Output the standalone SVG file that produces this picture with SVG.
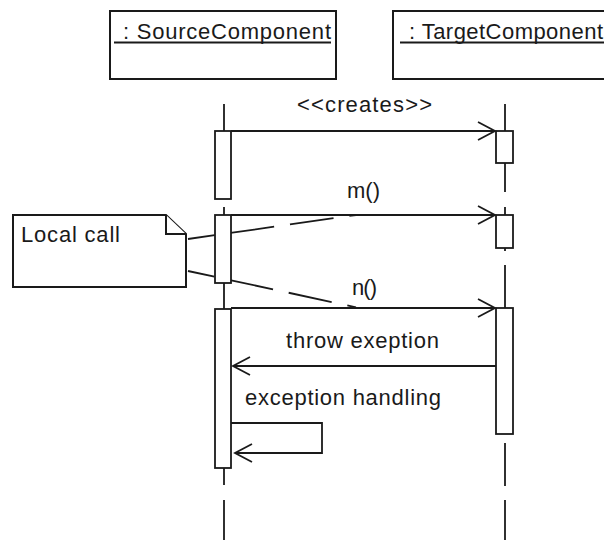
<svg xmlns="http://www.w3.org/2000/svg" width="604" height="540" viewBox="0 0 604 540">
<style>
  .box{fill:#fff;stroke:#1a1a1a;stroke-width:2}
  .bar{fill:#fff;stroke:#1a1a1a;stroke-width:1.8}
  .life{stroke:#1a1a1a;stroke-width:1.8;fill:none}
  .msg{stroke:#1a1a1a;stroke-width:1.8;fill:none;marker-end:url(#open)}
  .anchor{stroke:#1a1a1a;stroke-width:1.8;fill:none;stroke-dasharray:44 16;stroke-dashoffset:17}
  .t{font-family:"Liberation Sans",Arial,sans-serif;font-size:22px;fill:#1a1a1a}
  .ul{stroke:#1a1a1a;stroke-width:1.8}
</style>
<defs>
  <marker id="open" viewBox="-19 -11 21 22" markerWidth="21" markerHeight="22" refX="0" refY="0" markerUnits="userSpaceOnUse" orient="auto" overflow="visible">
    <path d="M-17 -9 L0 0 L-17 9" fill="none" stroke="#1a1a1a" stroke-width="1.8"/>
  </marker>
</defs>
<rect width="604" height="540" fill="#fff"/>

<g id="lifelines">
  <g id="source-lifeline" class="life">
    <line x1="224" y1="104" x2="224" y2="131"/>
    <line x1="224" y1="207" x2="224" y2="215"/>
    <line x1="224" y1="283" x2="224" y2="309"/>
    <line x1="224" y1="468" x2="224" y2="485"/>
    <line x1="224" y1="500" x2="224" y2="540"/>
  </g>
  <g id="target-lifeline" class="life">
    <line x1="505" y1="104" x2="505" y2="131"/>
    <line x1="505" y1="163" x2="505" y2="192"/>
    <line x1="505" y1="207" x2="505" y2="215"/>
    <line x1="505" y1="248" x2="505" y2="251"/>
    <line x1="505" y1="265" x2="505" y2="308"/>
    <line x1="505" y1="443" x2="505" y2="486"/>
    <line x1="505" y1="500" x2="505" y2="540"/>
  </g>
</g>

<g id="source-component">
  <rect class="box" x="110" y="11" width="226" height="68"/>
  <text class="t" x="123" y="39" textLength="208" lengthAdjust="spacing">: SourceComponent</text>
  <line class="ul" x1="114" y1="42.5" x2="331" y2="42.5"/>
</g>

<g id="target-component">
  <rect class="box" x="393" y="11" width="230" height="68"/>
  <text class="t" x="409" y="39" textLength="194" lengthAdjust="spacing">: TargetComponent</text>
  <line class="ul" x1="400" y1="42.5" x2="610" y2="42.5"/>
</g>

<g id="note-local-call">
  <path class="box" d="M13 215 H166 L186 234 V287 H13 Z"/>
  <path class="box" d="M166 215 V234 H186" fill="none"/>
  <text class="t" x="21" y="242" textLength="99" lengthAdjust="spacing">Local call</text>
</g>

<g id="connectors">
  <line class="anchor" x1="188" y1="239" x2="356" y2="215"/>
  <line class="anchor" x1="188" y1="271" x2="356" y2="307.3"/>
</g>

<g id="activations">
  <rect class="bar" x="215" y="131" width="16" height="68"/>
  <rect class="bar" x="215" y="215" width="16" height="68"/>
  <rect class="bar" x="215" y="309" width="16" height="159"/>
  <rect class="bar" x="496" y="131" width="17" height="32"/>
  <rect class="bar" x="496" y="215" width="17" height="33"/>
  <rect class="bar" x="496" y="308" width="17" height="126"/>
</g>

<g id="messages">
  <line class="msg" x1="231" y1="131" x2="495" y2="131"/>
  <text class="t" x="297" y="112" textLength="135" lengthAdjust="spacing">&lt;&lt;creates&gt;&gt;</text>
  <line class="msg" x1="231" y1="215" x2="495" y2="215"/>
  <text class="t" x="347" y="198" textLength="33" lengthAdjust="spacing">m()</text>
  <line class="msg" x1="231" y1="308" x2="495" y2="308"/>
  <text class="t" x="352" y="295" textLength="25" lengthAdjust="spacing">n()</text>
  <line class="msg" x1="496" y1="366" x2="233" y2="366"/>
  <text class="t" x="286" y="348" textLength="153" lengthAdjust="spacing">throw exeption</text>
  <path class="msg" d="M231 423 H322 V453 H235"/>
  <text class="t" x="245" y="405" textLength="196" lengthAdjust="spacing">exception handling</text>
</g>
</svg>
